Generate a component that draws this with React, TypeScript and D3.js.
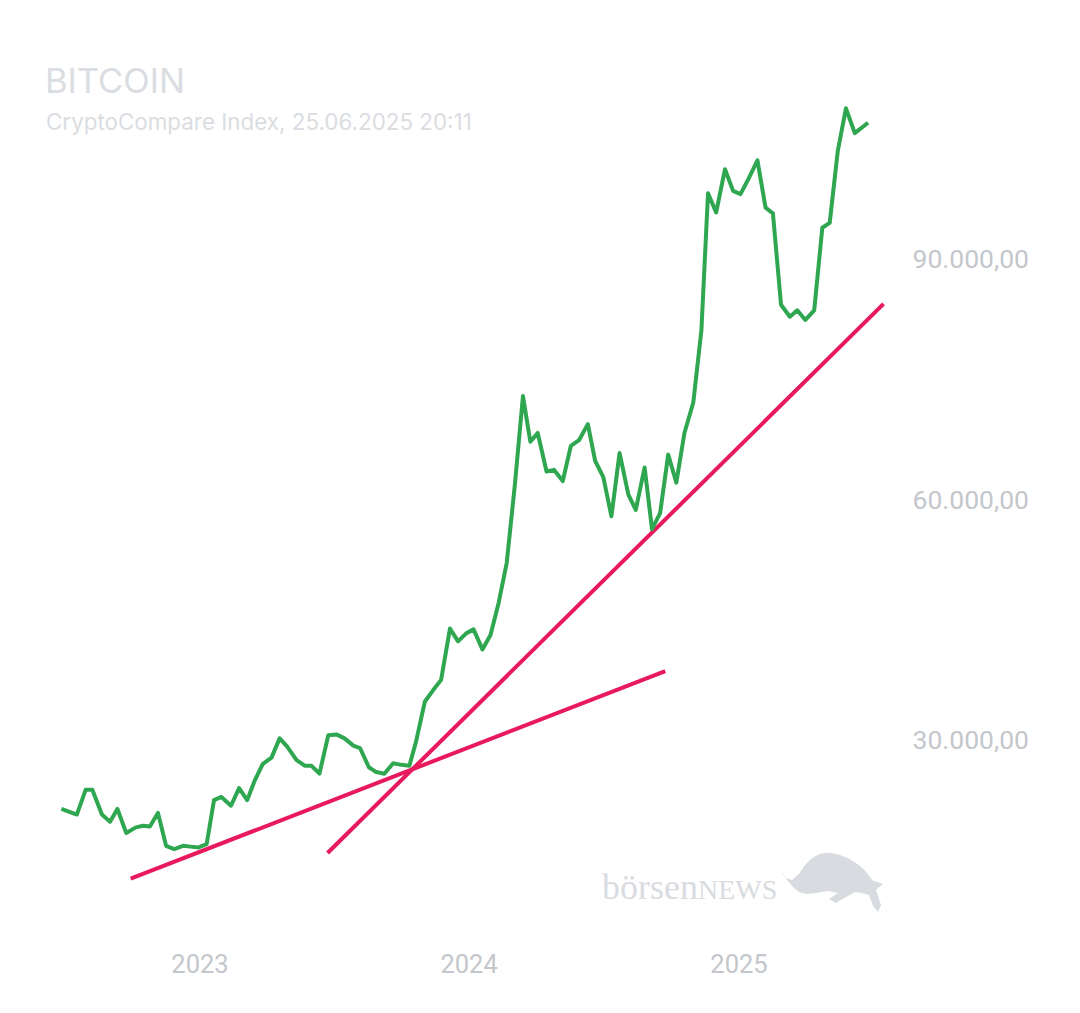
import React from "react";
import * as d3 from "d3";

const W = 1080;
const H = 1013;

const title = "BITCOIN";
const subtitle = "CryptoCompare Index, 25.06.2025 20:11";

const priceDates: string[] = [
  "2022-06-27", "2022-07-18", "2022-07-30", "2022-08-08", "2022-08-21", "2022-09-01", "2022-09-11", "2022-09-23",
  "2022-10-06", "2022-10-16", "2022-10-25", "2022-11-05", "2022-11-16", "2022-11-27", "2022-12-09", "2022-12-19",
  "2022-12-30",
  "2023-01-10", "2023-01-20", "2023-01-30", "2023-02-12", "2023-02-23", "2023-03-06", "2023-03-16", "2023-03-27",
  "2023-04-08", "2023-04-19", "2023-04-29", "2023-05-12", "2023-05-23", "2023-06-01", "2023-06-12", "2023-06-24",
  "2023-07-05", "2023-07-16", "2023-07-28", "2023-08-06", "2023-08-18", "2023-08-28", "2023-09-08", "2023-09-20",
  "2023-10-01", "2023-10-12", "2023-10-21", "2023-11-02", "2023-11-13", "2023-11-24", "2023-12-06", "2023-12-17",
  "2023-12-28",
  "2024-01-07", "2024-01-19", "2024-01-30", "2024-02-10", "2024-02-21", "2024-03-03", "2024-03-14", "2024-03-24",
  "2024-04-03", "2024-04-15", "2024-04-25", "2024-05-07", "2024-05-18", "2024-05-29", "2024-06-10", "2024-06-20",
  "2024-07-01", "2024-07-12", "2024-07-23", "2024-08-04", "2024-08-14", "2024-08-26", "2024-09-05", "2024-09-16",
  "2024-09-27", "2024-10-08", "2024-10-19", "2024-10-31", "2024-11-11", "2024-11-20", "2024-12-01", "2024-12-13",
  "2024-12-24",
  "2025-01-03", "2025-01-15", "2025-01-26", "2025-02-06", "2025-02-16", "2025-02-27", "2025-03-11", "2025-03-21",
  "2025-04-01", "2025-04-13", "2025-04-24", "2025-05-04", "2025-05-15", "2025-05-26", "2025-06-07", "2025-06-25",
];

const priceValues: number[] = [
  21400, 20700, 23800, 23800, 20700, 19800, 21400, 18400,
  19100, 19300, 19200, 20900, 16800, 16400, 16800, 16700,
  16600,
  17000, 22500, 22900, 21800, 24000, 22500, 24900, 27000,
  27800, 30200, 29200, 27500, 26800, 26800, 25800, 30600,
  30700, 30200, 29300, 29000, 26600, 26000, 25800, 27100,
  26900, 26800, 29800, 34800, 36200, 37500, 43900, 42300,
  43300,
  43800, 41300, 43100, 47100, 52100, 61800, 72900, 67200,
  68300, 63500, 63700, 62300, 66700, 67400, 69400, 64800,
  62800, 57900, 65800, 60600, 58700, 64000, 56300, 58300,
  65600, 62100, 68300, 72100, 81100, 98200, 95800, 101200,
  98500,
  98100, 100200, 102300, 96400, 95700, 84300, 82800, 83600,
  82400, 83600, 93900, 94500, 103500, 108800, 105700, 107000,
];

// trend lines: start/end dates and values
const trendDates: [string, string][] = [
  ["2022-09-29", "2024-09-23"],
  ["2023-06-23", "2025-07-16"],
];
const trendValues: [number, number][] = [
  [12700, 38600],
  [15900, 84400],
];

const yTicks = [30000, 60000, 90000];
const xTickYears = ["2023-01-01", "2024-01-01", "2025-01-01"];

const parse = d3.utcParse("%Y-%m-%d");
const locale = d3.formatLocale({ decimal: ",", thousands: ".", grouping: [3], currency: ["", "€"] });
const fmtY = locale.format(",.2f");

export default function App() {
  const x = d3
    .scaleUtc()
    .domain([parse("2023-01-01")!, parse("2025-01-01")!])
    .range([200, 739]);
  const y = d3.scaleLinear().domain([0, 90000]).range([980.5, 259]);

  const pts = priceDates.map((d, i) => ({ date: parse(d)!, value: priceValues[i] }));
  const line = d3
    .line<{ date: Date; value: number }>()
    .x((d) => x(d.date))
    .y((d) => y(d.value));

  const green = "#2fa650";
  const pink = "#e8195c";
  const labelColor = "#c3c7cc";

  return (
    <svg
      width={W}
      height={H}
      style={{ position: "absolute", left: 0, top: 0, background: "#fff" }}
    >
      <rect x={0} y={0} width={W} height={H} fill="#ffffff" />
      <text x={45} y={93} fontFamily="Inter, sans-serif" fontSize={34.5} fill="#dadde1">
        {title}
      </text>
      <text x={46} y={130} fontFamily="Inter, sans-serif" fontSize={22.4} fill="#dadde1">
        {subtitle}
      </text>

      {/* watermark */}
      <g fill="#d8dbdf">
        <text x={602} y={899} fontFamily="'Liberation Serif', 'DejaVu Serif', serif" fontSize={36}>
          börsen
          <tspan fontSize={28}>NEWS</tspan>
        </text>
        <path d="M781,871 Q784,879 792,880 L799,874 Q806,862 814,857 Q822,852 832,853 Q848,856 860,866 Q868,873 872,880 L883,884 L878,888 L876,890 L881,905 L878,912 L873,906 L869,895 L862,893 L855,892 L846,897 L836,903 L829,899 L838,893 L828,891 L816,893 L806,894 L799,892 L793,887 L788,881 Z" />
      </g>

      {/* y labels */}
      {yTicks.map((t) => (
        <text
          key={t}
          x={1029}
          y={y(t) + 9}
          textAnchor="end"
          fontFamily="Roboto, sans-serif"
          fontSize={26.5}
          fill={labelColor}
        >
          {fmtY(t)}
        </text>
      ))}

      {/* x labels */}
      {xTickYears.map((d) => (
        <text
          key={d}
          x={x(parse(d)!)}
          y={973}
          textAnchor="middle"
          fontFamily="Roboto, sans-serif"
          fontSize={25.5}
          fill={labelColor}
        >
          {d.slice(0, 4)}
        </text>
      ))}

      {/* trend lines */}
      {trendDates.map((td, i) => (
        <line
          key={i}
          x1={x(parse(td[0])!)}
          y1={y(trendValues[i][0])}
          x2={x(parse(td[1])!)}
          y2={y(trendValues[i][1])}
          stroke={pink}
          strokeWidth={4}
        />
      ))}

      {/* price line */}
      <path d={line(pts) ?? ""} fill="none" stroke={green} strokeWidth={4} strokeLinejoin="round" />
    </svg>
  );
}
